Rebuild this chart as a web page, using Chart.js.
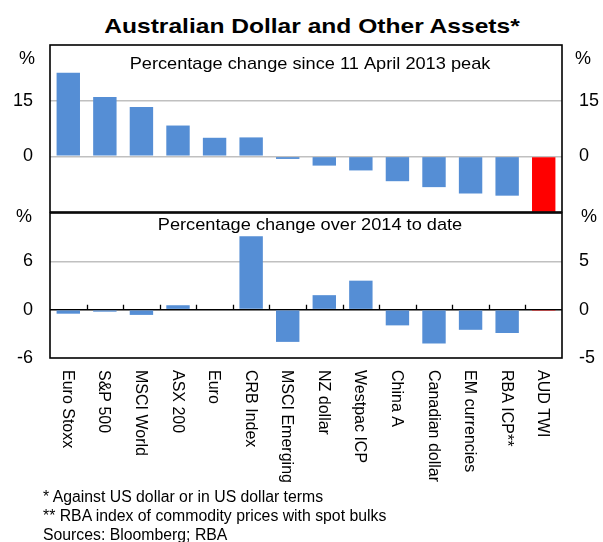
<!DOCTYPE html>
<html>
<head>
<meta charset="utf-8">
<script src="https://cdn.jsdelivr.net/npm/chart.js@4/dist/chart.umd.min.js"></script>
<style>
  body { margin: 0; background: #fff; font-family: "Liberation Sans", Arial, sans-serif; }
  #wrap { position: relative; width: 603px; height: 542px; overflow: hidden; }
  canvas { position: absolute; left: 0; }
  #title { position: absolute; top: 14px; left: 0; width: 624px; text-align: center;
           font-weight: bold; font-size: 21px; line-height: 24px; transform: scaleX(1.17); }
  #notes { position: absolute; left: 43px; top: 487px; font-size: 15.8px; line-height: 19px; }
</style>
</head>
<body>
<div id="wrap">
  <div id="title">Australian Dollar and Other Assets*</div>
  <canvas id="top" width="603" height="214" style="top:0"></canvas>
  <canvas id="bottom" width="603" height="342" style="top:200px"></canvas>
  <div id="notes">* Against US dollar or in US dollar terms<br>** RBA index of commodity prices with spot bulks<br>Sources: Bloomberg; RBA</div>
</div>
<script>
const categories = ['Euro Stoxx', 'S&P 500', 'MSCI World', 'ASX 200', 'Euro', 'CRB Index',
  'MSCI Emerging', 'NZ dollar', 'Westpac ICP', 'China A', 'Canadian dollar',
  'EM currencies', 'RBA ICP**', 'AUD TWI'];
// % change since 11 April 2013 peak
const sincePeak = [22.5, 16.0, 13.3, 8.3, 5.0, 5.1, -0.7, -2.5, -3.8, -6.7, -8.3, -10.0, -10.6, -14.9];
// % change over 2014 to date
const over2014 = [-0.5, -0.25, -0.65, 0.55, -0.1, 9.1, -4.0, 1.8, 3.6, -1.95, -4.2, -2.5, -2.9, -0.15];

const topLeftTicks = [0, 15];
const topRightTicks = [0, 15];
const botLeftTicks = [-6, 0, 6];
const botRightTicks = [-5, 0, 5];

const FONT = '"Liberation Sans", Arial, sans-serif';
const blue = '#558ed5';
const colours = categories.map(c => c === 'AUD TWI' ? '#ff0000' : blue);

const panelPlugin = {
  id: 'panel',
  afterDraw(chart, args, o) {
    const { ctx, chartArea: a } = chart;
    ctx.save();
    ctx.fillStyle = '#000';
    ctx.textBaseline = 'middle';
    ctx.font = '18px ' + FONT;
    ctx.textAlign = 'right';
    ctx.fillText('%', o.pctLeftX, a.top + o.pctDy);
    ctx.textAlign = 'left';
    ctx.fillText('%', o.pctRightX, a.top + o.pctDy);

    // panel subtitle, slightly widened like the original
    ctx.save();
    ctx.font = '17px ' + FONT;
    ctx.textAlign = 'center';
    ctx.translate((a.left + a.right) / 2 + 4, a.top + o.subDy);
    ctx.scale(1.07, 1);
    ctx.fillText(o.subtitle, 0, 0);
    ctx.restore();

    const xs = chart.scales.x;
    if (o.zeroTicks) {
      const y0 = chart.scales.y.getPixelForValue(0);
      const step = xs.getPixelForValue(1) - xs.getPixelForValue(0);
      ctx.strokeStyle = '#000';
      ctx.lineWidth = 1.3;
      ctx.beginPath();
      for (let i = 1; i < categories.length; i++) {
        const x = Math.round(xs.getPixelForValue(i) - step / 2) + 0.5;
        ctx.moveTo(x, y0);
        ctx.lineTo(x, y0 - 5);
      }
      ctx.stroke();
    }
    if (o.labels) {
      ctx.font = '16px ' + FONT;
      ctx.textAlign = 'left';
      ctx.textBaseline = 'middle';
      categories.forEach((c, i) => {
        ctx.save();
        ctx.translate(xs.getPixelForValue(i) - 1, a.bottom + 12);
        ctx.rotate(Math.PI / 2);
        ctx.fillText(c, 0, 0);
        ctx.restore();
      });
    }
    ctx.strokeStyle = '#000';
    ctx.lineWidth = 1.6;
    ctx.strokeRect(a.left, a.top, a.right - a.left, a.bottom - a.top);
    ctx.restore();
  }
};

function yAxis(pos, min, max, step, shown, gridFn) {
  return {
    position: pos,
    min: min, max: max,
    afterFit: s => {
      s.width = pos === 'left' ? 50 : 41;
      s.paddingTop = 0;
      s.paddingBottom = 0;
    },
    border: { display: false },
    grid: gridFn ? { color: gridFn, lineWidth: 1.6, drawTicks: false }
                 : { display: false, drawTicks: false },
    ticks: {
      stepSize: step,
      padding: 17,
      color: '#000',
      font: { family: FONT, size: 18 },
      callback: v => shown.includes(v) ? String(v) : ''
    }
  };
}

function makeChart(id, values, scales, padding, panelOpts) {
  return new Chart(document.getElementById(id), {
    type: 'bar',
    data: {
      labels: categories,
      datasets: [{
        data: values,
        backgroundColor: colours,
        borderWidth: 0,
        barPercentage: 0.64,
        categoryPercentage: 1
      }]
    },
    options: {
      responsive: false,
      animation: false,
      layout: { padding: padding },
      plugins: { legend: { display: false }, tooltip: { enabled: false }, panel: panelOpts },
      scales: Object.assign({ x: { display: false, offset: true } }, scales)
    },
    plugins: [panelPlugin]
  });
}

makeChart('top', sincePeak, {
  y: yAxis('left', -15, 30, 15, topLeftTicks,
    c => (c.tick.value === 15 || c.tick.value === 0) ? '#c0c0c0' : 'rgba(0,0,0,0)'),
  y2: yAxis('right', -15, 30, 15, topRightTicks, null)
}, { top: 45, bottom: 2, left: 0, right: 0 },
{ subtitle: 'Percentage change since 11 April 2013 peak', subDy: 19, pctDy: 14,
  pctLeftX: 35, pctRightX: 575, zeroTicks: false, labels: false });

makeChart('bottom', over2014, {
  y: yAxis('left', -6, 12, 6, botLeftTicks,
    c => c.tick.value === 0 ? '#000' : (c.tick.value === 6 ? '#c0c0c0' : 'rgba(0,0,0,0)')),
  y2: yAxis('right', -5, 10, 5, botRightTicks, null)
}, { top: 13, bottom: 184, left: 0, right: 0 },
{ subtitle: 'Percentage change over 2014 to date', subDy: 12, pctDy: 4,
  pctLeftX: 32, pctRightX: 581, zeroTicks: true, labels: true });
</script>
</body>
</html>
